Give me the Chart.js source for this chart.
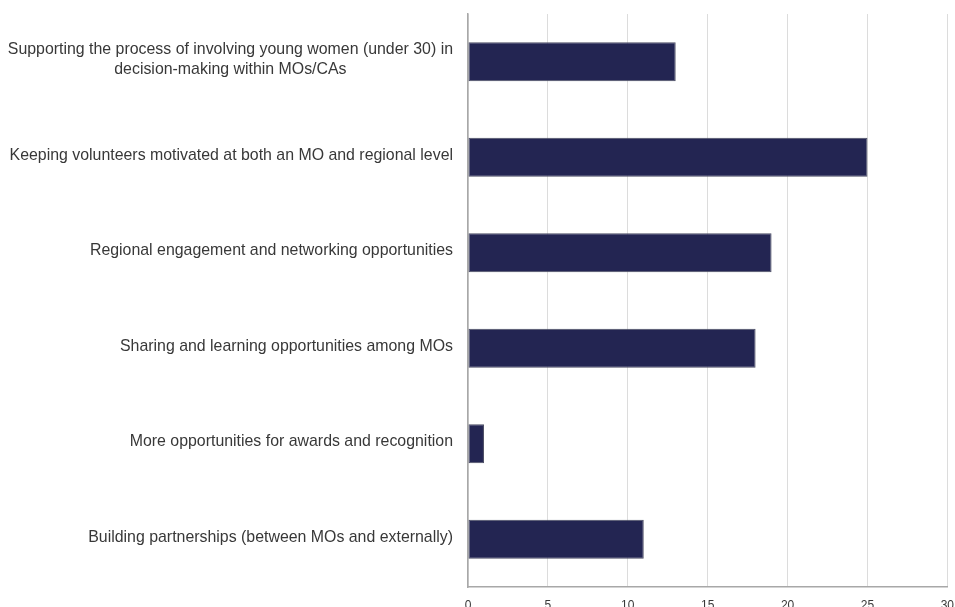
<!DOCTYPE html>
<html>
<head>
<meta charset="utf-8">
<script src="https://cdn.jsdelivr.net/npm/chart.js@4/dist/chart.umd.min.js"></script>
<style>
  html, body { margin: 0; padding: 0; background: #fff; overflow: hidden; }
  #wrap { width: 955px; height: 607px; overflow: hidden; }
</style>
</head>
<body>
<div id="wrap"><canvas id="chart" width="965" height="616"></canvas></div>
<script>
const categories = [
  ["Supporting the process of involving young women (under 30) in", "decision-making within MOs/CAs"],
  "Keeping volunteers motivated at both an MO and regional level",
  "Regional engagement and networking opportunities",
  "Sharing and learning opportunities among MOs",
  "More opportunities for awards and recognition",
  "Building partnerships (between MOs and externally)"
];
const counts = [13, 25, 19, 18, 1, 11];
const xTicks = [0, 5, 10, 15, 20, 25, 30];

const labelFont = "15.9px 'Liberation Sans', Arial, sans-serif";

// y labels: right edge at the axis gap, multi-line labels centred as a block
const yLabels = {
  id: "yLabels",
  afterDraw(chart) {
    const ctx = chart.ctx;
    const scale = chart.scales.y;
    const right = scale.right - 15;
    const lineH = 20;
    ctx.save();
    ctx.font = labelFont;
    ctx.fillStyle = "#383838";
    ctx.textAlign = "center";
    ctx.textBaseline = "middle";
    categories.forEach((cat, i) => {
      const lines = Array.isArray(cat) ? cat : [cat];
      const w = Math.max(...lines.map(l => ctx.measureText(l).width));
      const cx = right - w / 2;
      const y0 = scale.getPixelForTick(i) - (lines.length - 1) * lineH / 2 - 2;
      lines.forEach((l, j) => ctx.fillText(l, cx, y0 + j * lineH));
    });
    ctx.restore();
  }
};

new Chart(document.getElementById("chart"), {
  type: "bar",
  data: {
    labels: categories,
    datasets: [{
      data: counts,
      backgroundColor: "#232552",
      borderColor: "#4b4d63",
      borderWidth: 1,
      borderSkipped: false,
      barPercentage: 0.41,
      categoryPercentage: 1
    }]
  },
  options: {
    indexAxis: "y",
    responsive: false,
    animation: false,
    layout: { padding: { top: 14, right: 0, left: 0, bottom: 0 } },
    plugins: { legend: { display: false }, tooltip: { enabled: false } },
    scales: {
      x: {
        min: 0,
        max: 30,
        afterBuildTicks: s => { s.ticks = xTicks.map(v => ({ value: v })); },
        grid: { color: "#dcdcdc", lineWidth: 1, drawTicks: false },
        border: { color: "#a8a8a8", width: 1.5 },
        ticks: {
          color: "#383838",
          font: { family: "'Liberation Sans', Arial, sans-serif", size: 12 },
          padding: 11,
          maxRotation: 0
        },
        afterFit: s => { s.height = 29; }
      },
      y: {
        grid: { display: false, drawTicks: false },
        border: { color: "#a8a8a8", width: 1.5 },
        ticks: { display: false },
        afterFit: s => { s.width = 468; }
      }
    }
  },
  plugins: [yLabels]
});
</script>
</body>
</html>
